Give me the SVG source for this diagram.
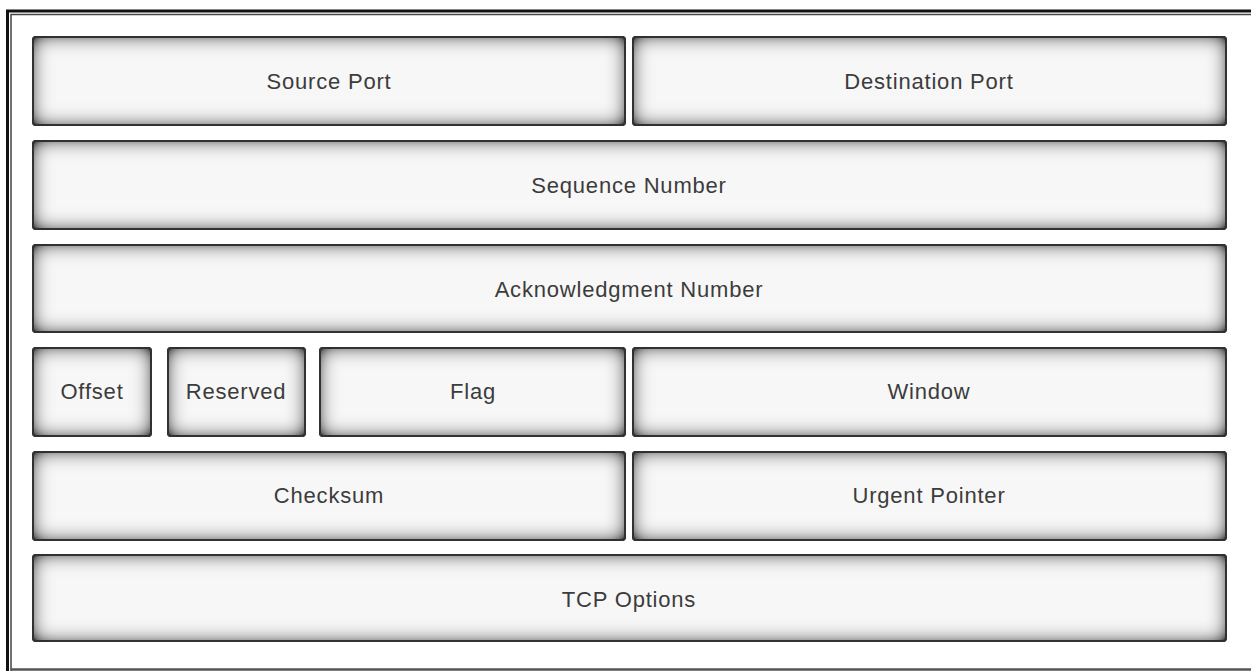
<svg xmlns="http://www.w3.org/2000/svg" width="1251" height="671" viewBox="0 0 1251 671">
<defs>
<filter id="inset" x="-50%" y="-60%" width="200%" height="220%">
<feFlood flood-color="#333333" result="f"/>
<feComposite in="f" in2="SourceAlpha" operator="out" result="o"/>
<feGaussianBlur in="o" stdDeviation="10" result="b"/>
<feComponentTransfer in="b" result="b2"><feFuncA type="linear" slope="1.5"/></feComponentTransfer>
<feComposite in="b2" in2="SourceAlpha" operator="in" result="s"/>
<feMerge><feMergeNode in="SourceGraphic"/><feMergeNode in="s"/></feMerge>
</filter>
<style>
.box{fill:#f7f7f7;stroke:#333;stroke-width:2;filter:url(#inset)}
.lbl{font-family:"Liberation Sans",Arial,sans-serif;font-size:22px;letter-spacing:0.8px;fill:#3c3c3c;text-anchor:middle}
</style>
</defs>
<rect width="1251" height="671" fill="#ffffff"/>
<g id="frame" fill="none">
<path d="M7.5,671 V11 H1251" stroke="#111" stroke-width="3"/>
<path d="M11,671 V14.5 H1251" stroke="#444" stroke-width="1.5"/>
<path d="M11,669.5 H1251" stroke="#555" stroke-width="2.5"/>
</g>
<g id="source-port"><rect class="box" x="33" y="37" width="592" height="88" rx="3"/><text class="lbl" x="329" y="89">Source Port</text></g>
<g id="destination-port"><rect class="box" x="633" y="37" width="593" height="88" rx="3"/><text class="lbl" x="929" y="89">Destination Port</text></g>
<g id="sequence-number"><rect class="box" x="33" y="141" width="1193" height="88" rx="3"/><text class="lbl" x="629" y="193">Sequence Number</text></g>
<g id="acknowledgment-number"><rect class="box" x="33" y="245" width="1193" height="87" rx="3"/><text class="lbl" x="629" y="297">Acknowledgment Number</text></g>
<g id="offset"><rect class="box" x="33" y="348" width="118" height="88" rx="3"/><text class="lbl" x="92" y="399">Offset</text></g>
<g id="reserved"><rect class="box" x="168" y="348" width="137" height="88" rx="3"/><text class="lbl" x="236" y="399">Reserved</text></g>
<g id="flag"><rect class="box" x="320" y="348" width="305" height="88" rx="3"/><text class="lbl" x="473" y="399">Flag</text></g>
<g id="window"><rect class="box" x="633" y="348" width="593" height="88" rx="3"/><text class="lbl" x="929" y="399">Window</text></g>
<g id="checksum"><rect class="box" x="33" y="452" width="592" height="88" rx="3"/><text class="lbl" x="329" y="503">Checksum</text></g>
<g id="urgent-pointer"><rect class="box" x="633" y="452" width="593" height="88" rx="3"/><text class="lbl" x="929" y="503">Urgent Pointer</text></g>
<g id="tcp-options"><rect class="box" x="33" y="555" width="1193" height="86" rx="3"/><text class="lbl" x="629" y="607">TCP Options</text></g>
<g id="connectors"/>
</svg>
